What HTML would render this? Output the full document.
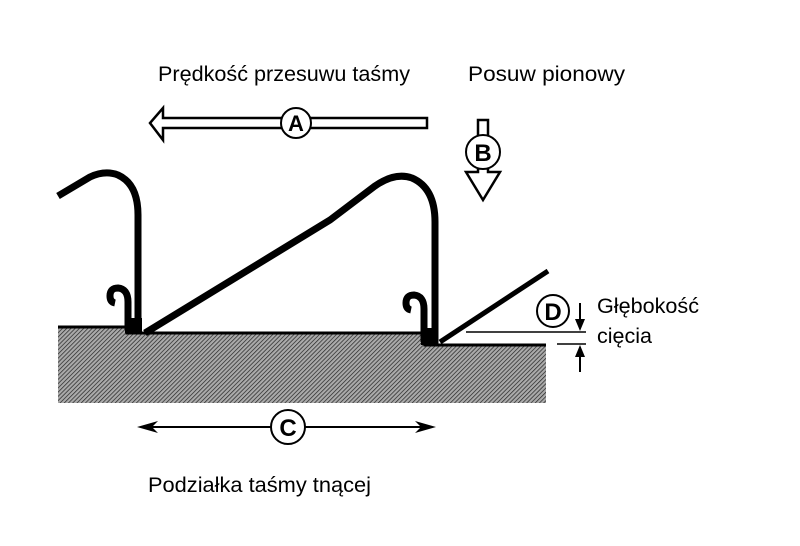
<!DOCTYPE html>
<html><head><style>
body{margin:0;background:#fff;}
svg{display:block}
text{font-family:"Liberation Sans",sans-serif;}
</style></head><body>
<svg width="800" height="546" viewBox="0 0 800 546" xmlns="http://www.w3.org/2000/svg">
<defs>
<pattern id="h" width="3" height="3" patternUnits="userSpaceOnUse" patternTransform="rotate(45)">
<rect width="3" height="3" fill="#aaa"/>
<line x1="0" y1="0" x2="0" y2="3" stroke="#222" stroke-width="1.4"/>
</pattern>
</defs>
<!-- workpiece -->
<polygon points="58,327 127,327 127,333 425,333 425,345 546,345 546,403 58,403" fill="url(#h)"/>
<polyline points="58,327 127,327 127,333 425,333 425,345 546,345" fill="none" stroke="#000" stroke-width="3"/>
<!-- tooth 1 -->
<path d="M58,196 L90,177 Q105,170 118,175 Q138,184 138,215 L138,333" fill="none" stroke="#000" stroke-width="7"/>
<path d="M128,330 L128,302 Q128,289 118,288 Q110,288 110,296 Q110,302 115,303" fill="none" stroke="#000" stroke-width="7"/>
<rect x="125" y="318" width="17" height="15" fill="#000"/>
<!-- tooth 2 -->
<path d="M145,333 L330,220 L375,186 Q395,172 412,178 Q435,188 435,222 L435,345" fill="none" stroke="#000" stroke-width="7"/>
<path d="M424,342 L424,309 Q424,296 414,295 Q406,295 406,303 Q406,309 411,310" fill="none" stroke="#000" stroke-width="7"/>
<rect x="421" y="328" width="17" height="17" fill="#000"/>
<!-- tooth 3 -->
<line x1="440" y1="342" x2="548" y2="271" stroke="#000" stroke-width="5"/>
<!-- arrow A -->
<path d="M427,118 L163,118 L163,108 L150,123 L163,140 L163,128 L427,128 Z" fill="#fff" stroke="#000" stroke-width="2.5"/>
<circle cx="296" cy="123" r="15" fill="#fff" stroke="#000" stroke-width="2"/>
<text x="296" y="131" font-size="22" font-weight="bold" text-anchor="middle">A</text>
<!-- arrow B -->
<path d="M478,120 L488,120 L488,172 L500,172 L483,200 L466,172 L478,172 Z" fill="#fff" stroke="#000" stroke-width="2.5"/>
<circle cx="483" cy="152" r="17" fill="#fff" stroke="#000" stroke-width="2"/>
<text x="483" y="161" font-size="24" font-weight="bold" text-anchor="middle">B</text>
<!-- D -->
<circle cx="553" cy="311" r="16" fill="#fff" stroke="#000" stroke-width="2"/>
<text x="553" y="320" font-size="24" font-weight="bold" text-anchor="middle">D</text>
<line x1="466" y1="332" x2="586" y2="332" stroke="#000" stroke-width="1.5"/>
<line x1="557" y1="344" x2="586" y2="344" stroke="#000" stroke-width="1.5"/>
<line x1="580" y1="303" x2="580" y2="322" stroke="#000" stroke-width="2"/>
<polygon points="575,319 585,319 580,331" fill="#000"/>
<line x1="580" y1="356" x2="580" y2="372" stroke="#000" stroke-width="2"/>
<polygon points="575,357 585,357 580,345" fill="#000"/>
<!-- C -->
<line x1="145" y1="427" x2="428" y2="427" stroke="#000" stroke-width="2"/>
<polygon points="137,427 158,421 152,427 158,433" fill="#000"/>
<polygon points="436,427 415,421 421,427 415,433" fill="#000"/>
<circle cx="288" cy="427" r="17" fill="#fff" stroke="#000" stroke-width="2"/>
<text x="288" y="436" font-size="24" font-weight="bold" text-anchor="middle">C</text>
<!-- labels -->
<text x="158" y="81" font-size="21" textLength="252" lengthAdjust="spacingAndGlyphs">Prędkość przesuwu taśmy</text>
<text x="468" y="81" font-size="21" textLength="157" lengthAdjust="spacingAndGlyphs">Posuw pionowy</text>
<text x="597" y="313" font-size="21" textLength="102" lengthAdjust="spacingAndGlyphs">Głębokość</text>
<text x="597" y="343" font-size="21" textLength="55" lengthAdjust="spacingAndGlyphs">cięcia</text>
<text x="148" y="492" font-size="21" textLength="223" lengthAdjust="spacingAndGlyphs">Podziałka taśmy tnącej</text>
</svg>
</body></html>
